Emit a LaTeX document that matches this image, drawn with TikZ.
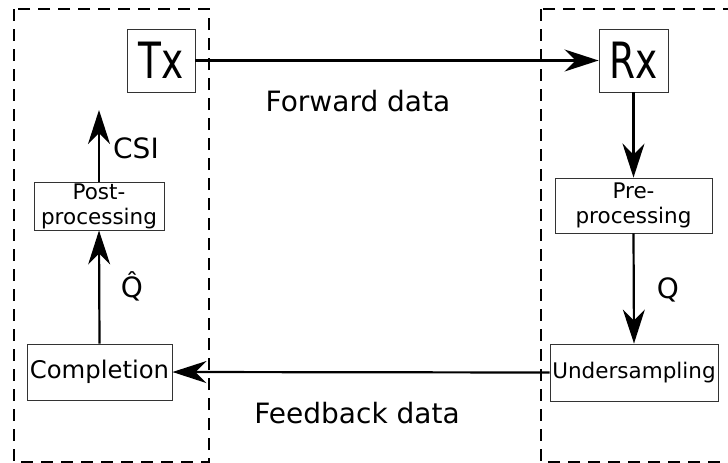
\documentclass[tikz,border=0pt]{standalone}
\usepackage{fontspec}
\setmainfont{DejaVu Sans}
\usetikzlibrary{arrows.meta}
\tikzset{
  blockbox/.style={draw=black!80, line width=0.9pt, inner sep=0pt, align=center, text=black},
  bigbox/.style={blockbox, font=\fontsize{50}{56}\selectfont},
  smallbox/.style={blockbox, font=\fontsize{21.5}{25}\selectfont},
  flow/.style={line width=2.2pt, -{Stealth[length=34pt,width=22pt,inset=11pt]}},
  zone/.style={draw=black, line width=2pt, dash pattern=on 12pt off 8pt},
  lbl/.style={inner sep=0pt, font=\fontsize{28}{32}\selectfont}
}
\begin{document}
\begin{tikzpicture}[x=1pt, y=-1pt]
  \useasboundingbox (0,0) rectangle (728,463);
  % transmitter and receiver sides
  \draw[zone] (14,9) rectangle (209,462);
  \draw[zone] (541,9) rectangle (745,462);

  % blocks
  \node[bigbox, minimum width=68pt, minimum height=63pt] (tx) at (161,60.5) {\scalebox{0.75}[1]{Tx}};
  \node[bigbox, minimum width=69pt, minimum height=63pt] (rx) at (633.5,60.5) {\scalebox{0.75}[1]{Rx}};
  \node[smallbox, minimum width=157pt, minimum height=55pt] (pre) at (633.5,205.5) {Pre-\\processing};
  \node[smallbox, minimum width=168pt, minimum height=57pt] (under) at (634,372.5) {Undersampling};
  \node[smallbox, minimum width=145pt, minimum height=56pt, font=\fontsize{24.3}{28}\selectfont] (comp) at (99.5,372) {Completion};
  \node[smallbox, minimum width=130pt, minimum height=48pt] (post) at (99,206) {Post-\\processing};
  \coordinate (csi) at (99,110);

  % connectors
  \draw[flow] (tx.east) -- (rx.west);
  \draw[flow] (rx.south) -- (pre.north);
  \draw[flow] (pre.south) -- (under.north);
  \draw[flow] (under.west) -- (comp.east);
  \draw[flow] (comp.north) -- (post.south);
  \draw[flow] (post.north) -- (csi);

  % labels
  \node[lbl] (fwd) at (358,101) {Forward data};
  \node[lbl] (fbk) at (357,413) {Feedback data};
  \node[lbl, anchor=west] (csilbl) at (113,148) {CSI};
  \node[lbl] (qhat) at (132,286) {Q̂};
  \node[lbl] (q) at (668,290) {Q};
\end{tikzpicture}
\end{document}
